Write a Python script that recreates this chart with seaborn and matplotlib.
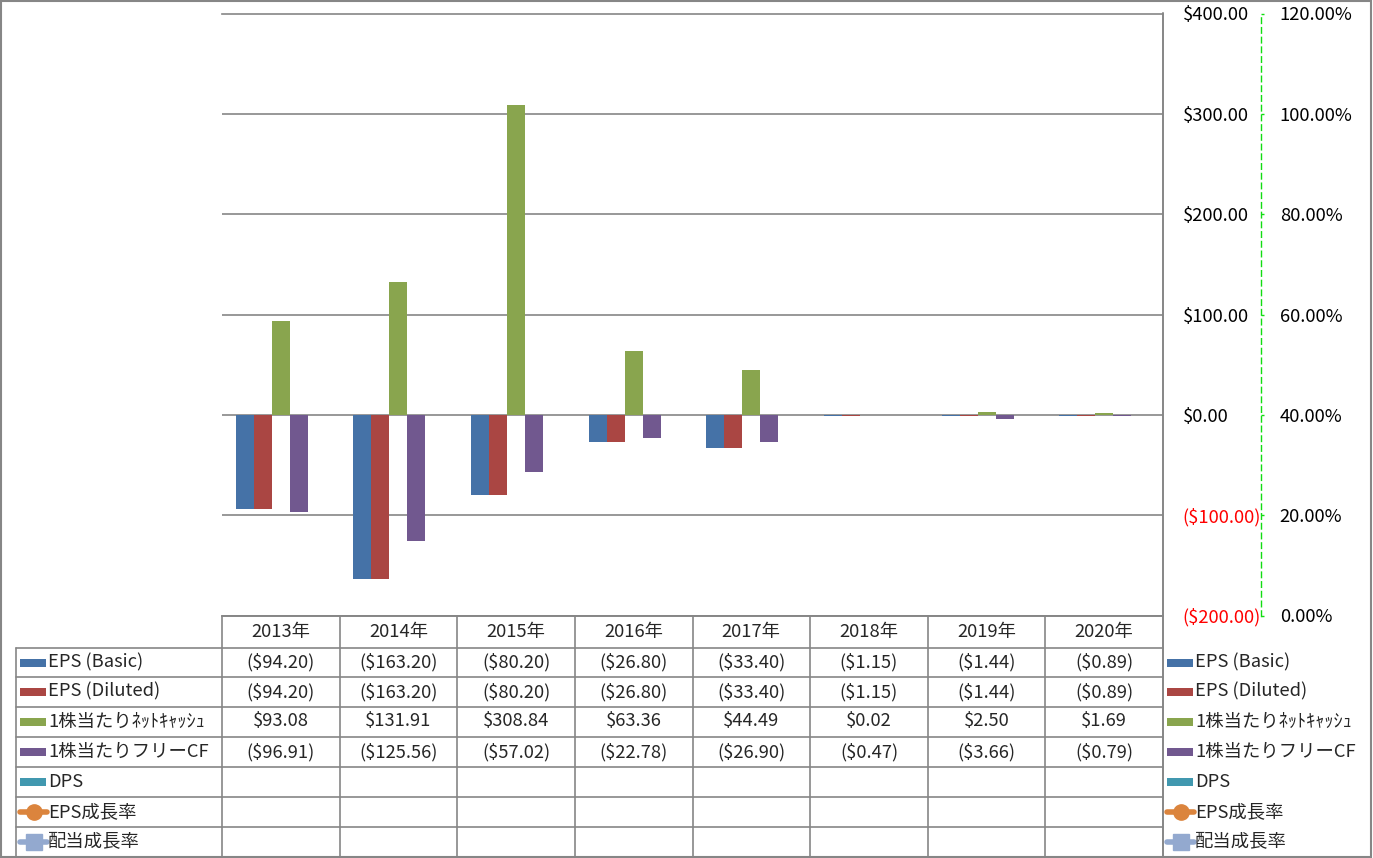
import matplotlib
matplotlib.use("Agg")
import matplotlib.pyplot as plt
from matplotlib.lines import Line2D
from matplotlib.patches import Rectangle
import numpy as np
import pandas as pd
import seaborn as sns

# ---------------- data ----------------
years = ["2013年", "2014年", "2015年", "2016年", "2017年", "2018年", "2019年", "2020年"]
series = ["EPS (Basic)", "EPS (Diluted)", "1株当たりﾈｯﾄｷｬｯｼｭ", "1株当たりフリーCF", "DPS"]
line_series = ["EPS成長率", "配当成長率"]
eps_basic = [-94.20, -163.20, -80.20, -26.80, -33.40, -1.15, -1.44, -0.89]
eps_diluted = [-94.20, -163.20, -80.20, -26.80, -33.40, -1.15, -1.44, -0.89]
net_cash = [93.08, 131.91, 308.84, 63.36, 44.49, 0.02, 2.50, 1.69]
fcf = [-96.91, -125.56, -57.02, -22.78, -26.90, -0.47, -3.66, -0.79]
dps = [np.nan] * 8
eps_growth = [np.nan] * 8
div_growth = [np.nan] * 8
left_ticks = [-200, -100, 0, 100, 200, 300, 400]
right_ticks = [0, 20, 40, 60, 80, 100, 120]

colors = ["#4572A7", "#AA4643", "#89A54E", "#71588F", "#4198AF"]
line_colors = ["#DB843D", "#93A9CF"]

values = [eps_basic, eps_diluted, net_cash, fcf, dps]
rows = []
for s, vals in zip(series, values):
    for y, v in zip(years, vals):
        rows.append({"year": y, "series": s, "value": v})
df = pd.DataFrame(rows)

# ---------------- figure ----------------
sns.set_theme(style="white")
FONT = ["Noto Sans CJK JP", "DejaVu Sans"]
plt.rcParams["font.family"] = FONT
W, H = 1373, 858
fig = plt.figure(figsize=(W / 100, H / 100), dpi=100)
fig.patch.set_facecolor("white")

def fx(x):
    return x / W

def fy(y):
    return 1 - y / H

GRID = "#868686"
FS = 13.2

PL, PR, PT, PB = 222, 1163, 13.5, 615.5
ax = fig.add_axes([fx(PL), fy(PB), (PR - PL) / W, (PB - PT) / H])
sns.barplot(data=df, x="year", y="value", hue="series", order=years,
            hue_order=series, palette=colors, width=0.765, dodge=True,
            saturation=1, errorbar=None, legend=False, linewidth=0, ax=ax)
ax.set_ylim(-200, 400)
ax.set_xlim(-0.5, len(years) - 0.5)
ax.set_axisbelow(True)
ax.yaxis.grid(True, color=GRID, lw=1.2)
ax.xaxis.grid(False)
ax.set_xlabel("")
ax.set_ylabel("")
ax.tick_params(axis="x", length=0, labelbottom=False)
ax.spines["left"].set_visible(False)
for side in ["right", "bottom", "top"]:
    ax.spines[side].set_visible(True)
    ax.spines[side].set_color(GRID)
    ax.spines[side].set_linewidth(1.2)
ax.patch.set_alpha(0)

def money(v):
    return f"(${abs(v):,.2f})" if v < 0 else f"${v:,.2f}"

# secondary axis
ax2 = ax.twinx()
ax2.set_ylim(0, 120)
ax2.set_yticks(right_ticks)
ax2.set_yticklabels([f"{v:.2f}%" for v in right_ticks])
ax2.spines["right"].set_position(("axes", (1261 - PL) / (PR - PL)))
ax2.spines["right"].set_linestyle((0, (4, 3)))
ax2.spines["right"].set_color("#11DD11")
ax2.spines["right"].set_linewidth(1.0)
for side in ["left", "top", "bottom"]:
    ax2.spines[side].set_visible(False)
ax2.tick_params(axis="y", direction="out", length=2.5, width=1, color="#11DD11",
                pad=11, labelsize=FS, labelcolor="black")
ax2.grid(False)
ax2.patch.set_alpha(0)

# primary labels on the right side (after twinx, which resets to left)
ax.yaxis.tick_right()
ax.set_yticks(left_ticks)
ax.set_yticklabels([money(v) for v in left_ticks])
ax.tick_params(axis="y", which="both", left=False, right=True, labelleft=False,
               labelright=True, length=0, pad=14, labelsize=FS)
for t, v in zip(ax.yaxis.get_major_ticks(), left_ticks):
    t.label2.set_color("#FF0000" if v < 0 else "black")

# ---------------- data table ----------------
col_edges = [PL + i * (PR - PL) / len(years) for i in range(len(years) + 1)]
row_edges = [615.5, 648, 677, 706.5, 736.5, 767, 797, 826.5, 856.5]

def hline(x0, x1, y):
    fig.add_artist(Line2D([fx(x0), fx(x1)], [fy(y), fy(y)], color=GRID, lw=1.2))

def vline(x, y0, y1):
    fig.add_artist(Line2D([fx(x), fx(x)], [fy(y0), fy(y1)], color=GRID, lw=1.2))

# outer border
fig.add_artist(Rectangle((fx(1), fy(857)), fx(1370), (856) / H, fill=False,
                         edgecolor=GRID, lw=1.5))

hline(PL, PR, row_edges[0])
for y in row_edges[1:]:
    hline(16, PR, y)
for x in col_edges:
    vline(x, row_edges[0], row_edges[-1])
vline(16, row_edges[1], row_edges[-1])
vline(PR, PT, row_edges[-1])

# header
for i, y in enumerate(years):
    cx = (col_edges[i] + col_edges[i + 1]) / 2
    cy = (row_edges[0] + row_edges[1]) / 2
    fig.text(fx(cx), fy(cy), y, ha="center", va="center", fontsize=FS, family=FONT)

all_labels = series + line_series
table_vals = [eps_basic, eps_diluted, net_cash, fcf, dps, eps_growth, div_growth]
for r, vals in enumerate(table_vals):
    cy = (row_edges[r + 1] + row_edges[r + 2]) / 2
    for i, v in enumerate(vals):
        if v is None or (isinstance(v, float) and np.isnan(v)):
            continue
        cx = (col_edges[i] + col_edges[i + 1]) / 2
        fig.text(fx(cx), fy(cy), money(v), ha="center", va="center",
                 fontsize=FS, family=FONT)

def legend_key(x0, cy, idx):
    if idx < len(series):
        fig.add_artist(Rectangle((fx(x0), fy(cy + 4)), 26 / W, 8 / H,
                                 facecolor=colors[idx], edgecolor="none"))
    else:
        c = line_colors[idx - len(series)]
        fig.add_artist(Line2D([fx(x0), fx(x0 + 27)], [fy(cy), fy(cy)], color=c,
                              lw=4, solid_capstyle="round"))
        marker = "o" if idx == len(series) else "s"
        fig.add_artist(Line2D([fx(x0 + 13.5)], [fy(cy)], color=c, marker=marker,
                              markersize=11, markeredgecolor=c, lw=0))

for r, lab in enumerate(all_labels):
    cy = (row_edges[r + 1] + row_edges[r + 2]) / 2
    # left legend in table
    legend_key(20, cy, r)
    fig.text(fx(48), fy(cy), lab, ha="left", va="center", fontsize=FS, family=FONT)
    # right legend
    legend_key(1167, cy, r)
    fig.text(fx(1195), fy(cy), lab, ha="left", va="center", fontsize=FS, family=FONT)

fig.savefig("out.png", dpi=100, facecolor="white")
